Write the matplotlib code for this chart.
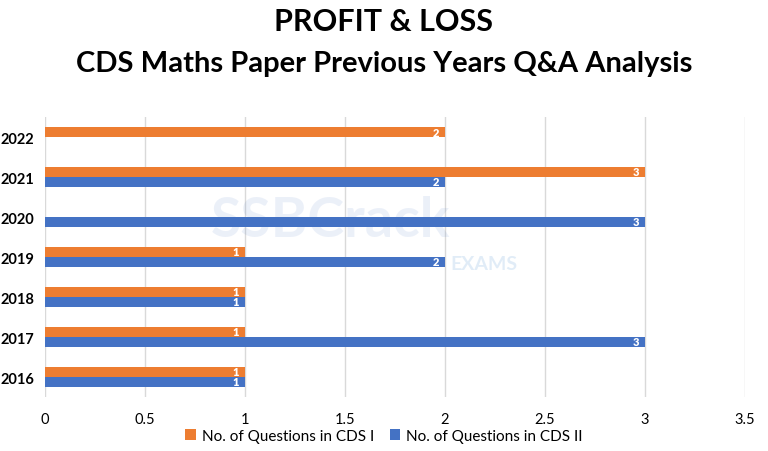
import matplotlib.pyplot as plt
import numpy as np

plt.rcParams['font.family'] = ['Lato', 'DejaVu Sans']

years = ['2016', '2017', '2018', '2019', '2020', '2021', '2022']
cds_1 = [1, 1, 1, 1, 0, 3, 2]
cds_2 = [1, 3, 1, 2, 3, 2, 0]

orange = '#ED7D31'
blue = '#4472C4'

fig = plt.figure(figsize=(7.68, 4.52), dpi=100)
ax = fig.add_axes([45 / 768, 1 - 398 / 452, 700 / 768, 280 / 452])

y = np.arange(len(years))
h = 0.25
b1 = ax.barh(y + h / 2, cds_1, height=h, color=orange, label='No. of Questions in CDS I')
b2 = ax.barh(y - h / 2, cds_2, height=h, color=blue, label='No. of Questions in CDS II')

# value labels at the bar ends
for bars, vals in [(b1, cds_1), (b2, cds_2)]:
    for bar, v in zip(bars, vals):
        if v == 0:
            continue
        ax.text(v - 0.03, bar.get_y() + bar.get_height() / 2, str(v),
                ha='right', va='center', color='white', fontsize=8, fontweight='heavy')

ax.set_xlim(0, 3.5)
ax.set_ylim(-0.5, len(years) - 0.5)
ax.set_xticks(np.arange(0, 3.51, 0.5))
ax.set_xticklabels(['0', '0.5', '1', '1.5', '2', '2.5', '3', '3.5'])
ax.set_yticks(y)
ax.set_yticklabels(years, fontweight='bold')
ax.tick_params(axis='both', length=0, labelsize=10.5)
ax.tick_params(axis='x', pad=11)
ax.tick_params(axis='y', pad=8)
ax.grid(axis='x', color='#D9D9D9', linewidth=1)
ax.set_axisbelow(True)
for s in ax.spines.values():
    s.set_visible(False)

# faint watermark
fig.text(0.43, 0.51, 'SSBCrack', fontsize=40, fontweight='bold', color='#4472C4', alpha=0.1,
         ha='center', va='center')
fig.text(0.63, 0.415, 'EXAMS', fontsize=14, fontweight='bold', color='#9DC3E6', alpha=0.3,
         ha='center', va='center')

fig.text(0.5, 1 - 22 / 452, 'PROFIT & LOSS', ha='center', va='center', fontsize=22, fontweight='bold')
fig.text(0.5, 1 - 64 / 452, 'CDS Maths Paper Previous Years Q&A Analysis', ha='center', va='center',
         fontsize=21, fontweight='bold')

fig.legend(handles=[b1, b2], loc='center', bbox_to_anchor=(0.5, 1 - 437 / 452), ncol=2,
           frameon=False, fontsize=11, handlelength=0.7, handleheight=0.7, columnspacing=1.0,
           handletextpad=0.4)

fig.savefig('out.png', dpi=100)
